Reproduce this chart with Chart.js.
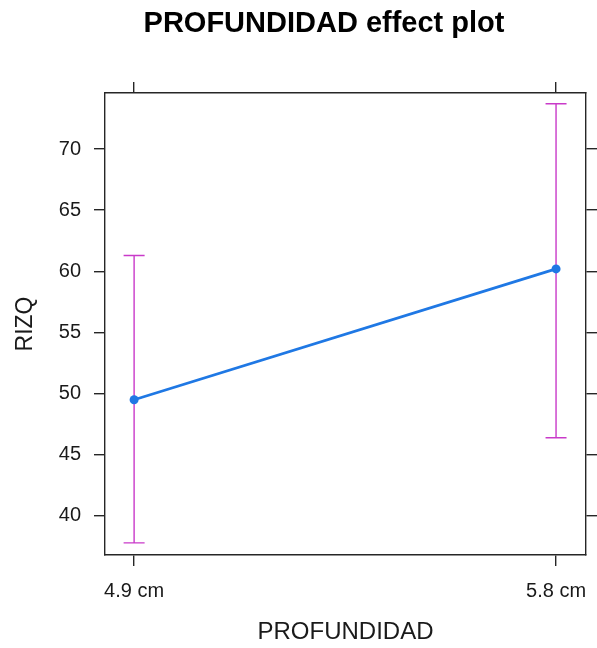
<!DOCTYPE html>
<html>
<head>
<meta charset="utf-8">
<script src="https://cdn.jsdelivr.net/npm/chart.js@4"></script>
<style>
  html, body { margin: 0; padding: 0; background: #ffffff; }
  #wrap { width: 597px; height: 648px; }
</style>
</head>
<body>
<div id="wrap"><canvas id="c" width="597" height="648"></canvas></div>
<script>
// Effect of PROFUNDIDAD on RIZQ: fitted means with confidence limits
const categories = ['4.9 cm', '5.8 cm'];
const fitted = [49.5, 60.2];
const lower = [37.8, 46.4];
const upper = [61.3, 73.7];
const yTicks = [40, 45, 50, 55, 60, 65, 70];

const FONT = "'Liberation Sans', Arial, sans-serif";
const FRAME = '#262626';
const BLUE = '#1f78e4';
const MAGENTA = '#c93ac9';

// Vertical interval bars with caps, placed through the chart's scales
const intervalBars = {
  id: 'intervalBars',
  beforeDatasetsDraw(chart) {
    const { ctx, scales } = chart;
    const xs = scales.x, ys = scales.y;
    ctx.save();
    ctx.strokeStyle = MAGENTA;
    ctx.lineWidth = 1.4;
    categories.forEach((c, i) => {
      const px = xs.getPixelForValue(i);
      const pLo = ys.getPixelForValue(lower[i]);
      const pHi = ys.getPixelForValue(upper[i]);
      ctx.beginPath();
      ctx.moveTo(px, pLo); ctx.lineTo(px, pHi);
      ctx.moveTo(px - 10.5, pLo); ctx.lineTo(px + 10.5, pLo);
      ctx.moveTo(px - 10.5, pHi); ctx.lineTo(px + 10.5, pHi);
      ctx.stroke();
    });
    ctx.restore();
  }
};

// Heading above the panel
const heading = {
  id: 'heading',
  afterDraw(chart) {
    const ctx = chart.ctx;
    ctx.save();
    ctx.fillStyle = '#000000';
    ctx.font = "bold 29px " + FONT;
    ctx.textAlign = 'center';
    ctx.textBaseline = 'middle';
    ctx.fillText('PROFUNDIDAD effect plot', 324, 24);
    ctx.restore();
  }
};

const fixedTicksX = (scale) => { scale.ticks = categories.map((c, i) => ({ value: i })); };
const fixedTicksY = (scale) => { scale.ticks = yTicks.map(v => ({ value: v })); };
const noSidePad = (s) => { s.paddingLeft = 0; s.paddingRight = 0; s.paddingTop = 0; s.paddingBottom = 0; };

const frameGrid = { drawOnChartArea: false, drawTicks: true, tickLength: 11, color: FRAME, lineWidth: 1.4 };
const frameBorder = { display: true, color: FRAME, width: 1.4 };

new Chart(document.getElementById('c'), {
  type: 'line',
  data: {
    datasets: [{
      data: fitted.map((v, i) => ({ x: i, y: v })),
      borderColor: BLUE,
      backgroundColor: BLUE,
      borderWidth: 2.8,
      pointRadius: 4.5,
      pointBorderWidth: 0,
      pointHoverRadius: 4.5,
      tension: 0
    }]
  },
  options: {
    responsive: false,
    animation: false,
    events: [],
    layout: { padding: 0 },
    plugins: { legend: { display: false }, tooltip: { enabled: false }, title: { display: false } },
    scales: {
      x: {
        type: 'linear', position: 'bottom',
        min: -0.069, max: 1.071,
        afterBuildTicks: fixedTicksX,
        afterFit: (s) => { s.height = 93; noSidePad(s); },
        grid: frameGrid, border: frameBorder,
        ticks: {
          color: '#1a1a1a', padding: 13, maxRotation: 0, autoSkip: false,
          font: { family: FONT, size: 20 },
          callback: (v) => categories[v]
        },
        title: {
          display: true, text: 'PROFUNDIDAD', color: '#1a1a1a',
          font: { family: FONT, size: 24 }, padding: { top: 4, bottom: 1 }
        }
      },
      x2: {
        type: 'linear', position: 'top',
        min: -0.069, max: 1.071,
        afterBuildTicks: fixedTicksX,
        afterFit: (s) => { s.height = 93; noSidePad(s); },
        grid: frameGrid, border: frameBorder,
        ticks: { display: false }
      },
      y: {
        type: 'linear', position: 'left',
        min: 36.81, max: 74.58,
        afterBuildTicks: fixedTicksY,
        afterFit: (s) => { s.width = 105; noSidePad(s); },
        grid: frameGrid, border: frameBorder,
        ticks: { color: '#1a1a1a', padding: 13, font: { family: FONT, size: 20 } },
        title: {
          display: true, text: 'RIZQ', color: '#1a1a1a',
          font: { family: FONT, size: 23 }, padding: { top: 12, bottom: 0 }
        }
      },
      y2: {
        type: 'linear', position: 'right',
        min: 36.81, max: 74.58,
        afterBuildTicks: fixedTicksY,
        afterFit: (s) => { s.width = 11; noSidePad(s); },
        grid: frameGrid, border: frameBorder,
        ticks: { display: false }
      }
    }
  },
  plugins: [intervalBars, heading]
});
</script>
</body>
</html>
